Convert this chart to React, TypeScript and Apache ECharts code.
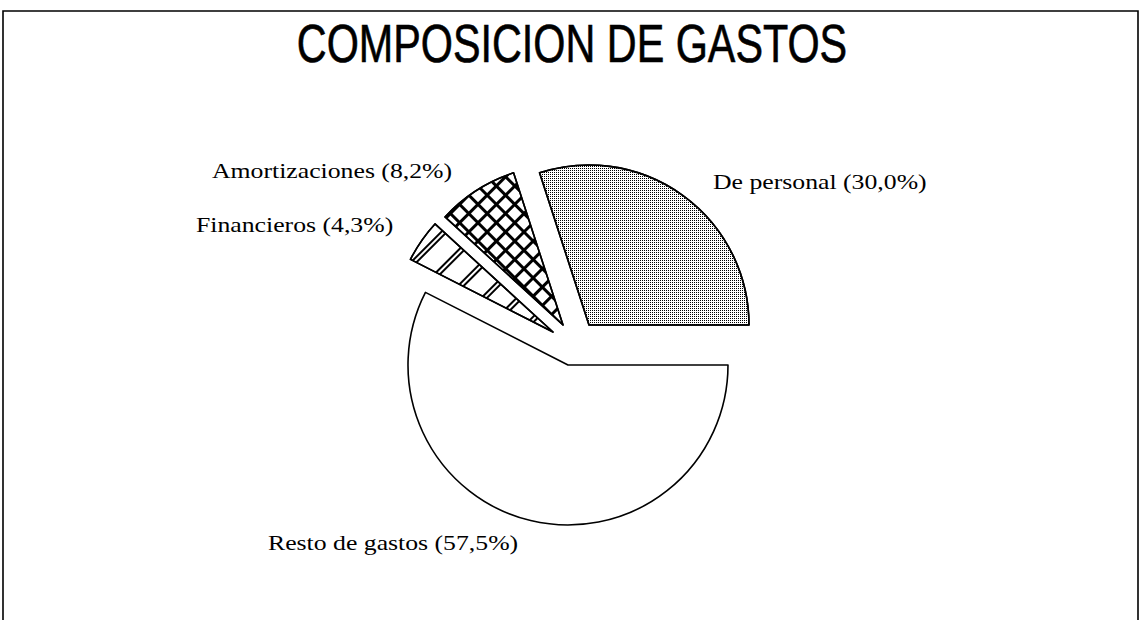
import React, { useEffect, useRef } from "react";
import * as echarts from "echarts";

const titleText = "COMPOSICION DE GASTOS";
const categories = ["De personal", "Resto de gastos", "Financieros", "Amortizaciones"];
const values = [30.0, 57.5, 4.3, 8.2];

// per-slice explosion centres (px) and label anchors (left x, middle y)
const sliceCenters: [number, number][] = [
  [589, 325],
  [568, 365],
  [553, 332],
  [563, 325],
];
const labelAnchors: [number, number][] = [
  [713, 182],
  [268, 543],
  [196, 225],
  [212, 171],
];

const pieRadius = 160;

const decals: any[] = [
  {
    symbol: "rect",
    symbolSize: 1,
    dashArrayX: [1, 1],
    dashArrayY: [1, 1],
    color: "#000",
  },
  null,
  {
    symbol: "rect",
    symbolSize: 1,
    dashArrayX: [1, 0],
    dashArrayY: [1.5, 1.5, 1.5, 19],
    rotation: -Math.PI / 4,
    color: "#000",
  },
  {
    symbol: "rect",
    symbolSize: 1,
    dashArrayX: [[1, 0], [3, 10]],
    dashArrayY: [3, 0, 10, 0],
    rotation: Math.PI / 4,
    color: "#000",
  },
];

const fmt = (v: number) => v.toFixed(1).replace(".", ",") + "%";

export default function App() {
  const ref = useRef<HTMLDivElement>(null);
  useEffect(() => {
    if (!ref.current) return;
    const chart = echarts.init(ref.current, null, { renderer: "svg" });

    const series = categories.map((_, i) => ({
      type: "pie",
      silent: true,
      center: sliceCenters[i],
      radius: [0, pieRadius],
      startAngle: 108,
      clockwise: true,
      avoidLabelOverlap: false,
      label: { show: false },
      labelLine: { show: false },
      emphasis: { disabled: true },
      data: categories.map((name, j) => ({
        name,
        value: values[j],
        itemStyle:
          j === i
            ? {
                color: "#fff",
                borderColor: "#000",
                borderWidth: 1.6,
                decal: decals[j] || undefined,
              }
            : { color: "rgba(0,0,0,0)", borderWidth: 0, borderColor: "rgba(0,0,0,0)" },
      })),
    }));

    const labelGraphics = categories.map((name, i) => ({
      type: "text",
      x: labelAnchors[i][0],
      y: labelAnchors[i][1],
      scaleX: 1.17,
      style: {
        text: `${name} (${fmt(values[i])})`,
        fontFamily: "'Liberation Serif', 'Times New Roman', serif",
        fontSize: 22,
        fill: "#000",
        textAlign: "left",
        textVerticalAlign: "middle",
      },
    }));

    chart.setOption({
      animation: false,
      backgroundColor: "#fff",
      series,
      graphic: [
        {
          type: "polyline",
          shape: { points: [[3, 620], [3, 11], [1138, 11], [1138, 620]] },
          style: { stroke: "#000", lineWidth: 1.6, fill: "none" },
        },
        {
          type: "text",
          x: 572,
          y: 44,
          scaleX: 0.78,
          style: {
            text: titleText,
            fontFamily: "'Liberation Sans', Arial, sans-serif",
            fontSize: 53,
            fill: "#000",
            stroke: "#000",
            lineWidth: 0.6,
            textAlign: "center",
            textVerticalAlign: "middle",
          },
        },
        ...labelGraphics,
      ],
    });
    return () => chart.dispose();
  }, []);
  return (
    <div
      ref={ref}
      style={{ position: "fixed", left: 0, top: 0, width: 1141, height: 620 }}
    />
  );
}
